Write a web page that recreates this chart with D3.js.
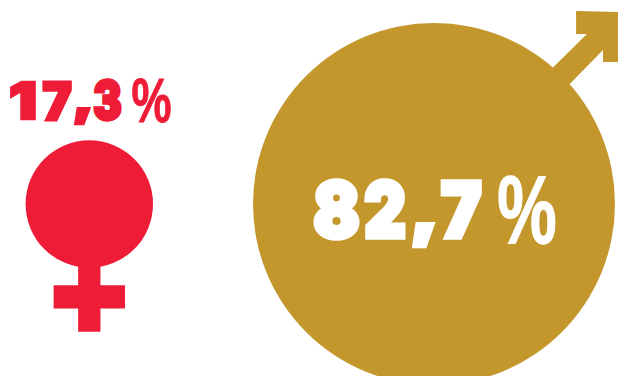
<!DOCTYPE html>
<html>
<head>
<meta charset="utf-8">
<script src="https://cdn.jsdelivr.net/npm/d3@7"></script>
<style>
html,body{margin:0;padding:0;background:#fff;overflow:hidden}
svg{display:block}
</style>
</head>
<body>
<svg id="chart" width="618" height="376"></svg>
<script>
// Gender shares, in percent
const genders = ["female", "male"];
const shares = [17.3, 82.7];
const shareLabels = ["17,3", "82,7"];
const colours = ["#EE1C37", "#C4972D"];

const svg = d3.select("#chart");

// Circle size follows the share; symbol parts are proportional to the radius
const radius = d3.scaleLinear().domain([17.3, 82.7]).range([63.7, 181]);
const centreX = d3.scaleOrdinal().domain(genders).range([89.3, 434]);
const centreY = 204;

const line = d3.line();
const rows = genders.map((g, i) => ({ g, value: shares[i], label: shareLabels[i], colour: colours[i] }));

// Body of each symbol
svg.selectAll("circle.body").data(rows).join("circle")
  .attr("class", "body")
  .attr("cx", d => centreX(d.g))
  .attr("cy", centreY)
  .attr("r", d => radius(d.value))
  .attr("fill", d => d.colour);

// Venus cross, in units of the female radius
const venus = rows[0], vr = radius(venus.value), vx = centreX(venus.g);
const venusOutline = [
  [-0.175, 0.9], [0.175, 0.9], [0.175, 1.275], [0.56, 1.275], [0.56, 1.64], [0.175, 1.64],
  [0.175, 2.005], [-0.175, 2.005], [-0.175, 1.64], [-0.56, 1.64], [-0.56, 1.275], [-0.175, 1.275]
];
svg.append("path")
  .attr("d", line(venusOutline.map(([x, y]) => [vx + x * vr, centreY + y * vr])) + "Z")
  .attr("fill", venus.colour);

// Mars arrow, in units of the male radius
const mars = rows[1], mr = radius(mars.value), mx = centreX(mars.g);
const marsOutline = [
  [0.5, -0.6], [0.845, -0.939], [0.785, -0.939], [0.785, -1.066], [1.02, -1.06],
  [1.02, -0.785], [0.934, -0.785], [0.934, -0.851], [0.75, -0.663], [0.7, -0.4]
];
svg.append("path")
  .attr("d", line(marsOutline.map(([x, y]) => [mx + x * mr, centreY + y * mr])) + "Z")
  .attr("fill", mars.colour);

// Ink boxes [x0, x1, y0, y1] for each character of the labels
const glyphBoxes = [
  [[10, 36, 80, 120], [42, 72, 80, 121], [74, 91, 107, 126], [93, 122, 79, 121]],
  [[313, 360, 178, 240], [364, 406, 178, 239], [412, 435, 221, 248], [440, 482, 179, 239]]
];
const percentBoxes = [[132, 171, 78, 123], [498, 556, 176, 245]];
const labelFills = [colours[0], "#fff"];
const digitStroke = [3, 5];
const percentStroke = [0.8, 1.2];

const ruler = document.createElement("canvas").getContext("2d");
const BASE_SIZE = 100;

// Draw one character so its ink fills a box, allowing for the outline width
function placeGlyph(ch, [x0, x1, y0, y1], family, weight, fill, strokeWidth) {
  ruler.font = `${weight} ${BASE_SIZE}px ${family}`;
  const m = ruler.measureText(ch);
  const inkW = m.actualBoundingBoxLeft + m.actualBoundingBoxRight;
  const inkH = m.actualBoundingBoxAscent + m.actualBoundingBoxDescent;
  const sx = (x1 - x0 - strokeWidth) / inkW;
  const sy = (y1 - y0 - strokeWidth) / inkH;
  const tx = x0 + strokeWidth / 2 + m.actualBoundingBoxLeft * sx;
  const ty = y0 + strokeWidth / 2 + m.actualBoundingBoxAscent * sy;
  svg.append("text")
    .text(ch)
    .attr("font-family", family)
    .attr("font-weight", weight)
    .attr("font-size", BASE_SIZE)
    .attr("fill", fill)
    .attr("stroke", strokeWidth ? fill : "none")
    .attr("stroke-width", strokeWidth)
    .attr("vector-effect", "non-scaling-stroke")
    .attr("transform", `translate(${tx},${ty}) scale(${sx},${sy})`);
}

rows.forEach((d, i) => {
  Array.from(d.label).forEach((ch, k) => {
    placeGlyph(ch, glyphBoxes[i][k], "Inter", 900, labelFills[i], digitStroke[i]);
  });
  placeGlyph("%", percentBoxes[i], "'Liberation Sans Narrow', 'Liberation Sans'", 700, labelFills[i], percentStroke[i]);
});
</script>
</body>
</html>
